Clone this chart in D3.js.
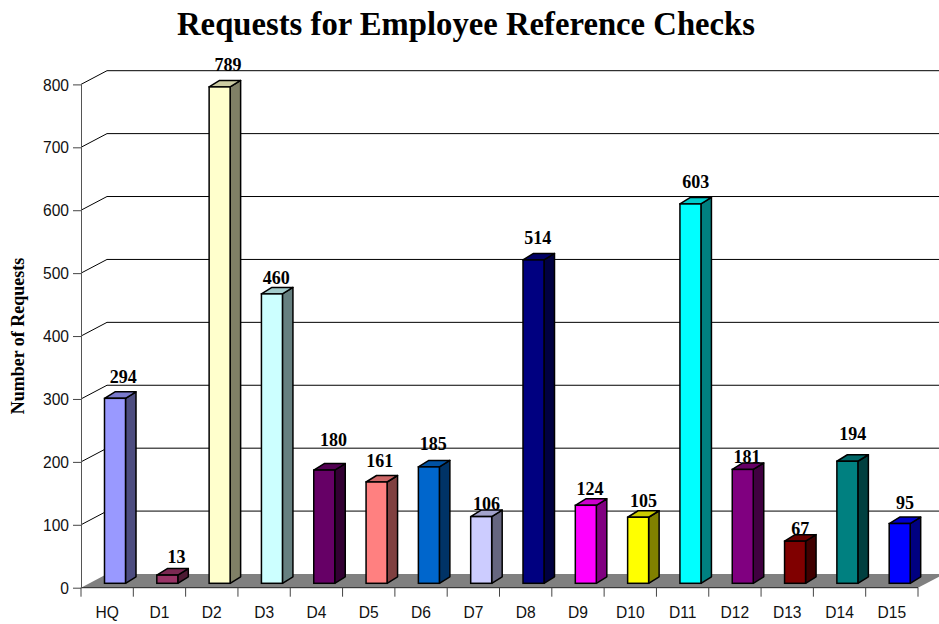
<!DOCTYPE html>
<html>
<head>
<meta charset="utf-8">
<script src="https://cdn.jsdelivr.net/npm/d3@7"></script>
<style>
  html, body { margin: 0; padding: 0; background: #fff; overflow: hidden; }
  svg { display: block; }
  .tickLabel { font-family: "Liberation Sans", Arial, sans-serif; font-size: 15.6px; fill: #111; }
  .valueLabel { font-family: "Liberation Serif", "Times New Roman", serif; font-weight: bold; font-size: 18px; fill: #000; }
</style>
</head>
<body>
<div id="chart"></div>
<script>
const categories = ["HQ", "D1", "D2", "D3", "D4", "D5", "D6", "D7", "D8", "D9", "D10", "D11", "D12", "D13", "D14", "D15"];
const requests = [294, 13, 789, 460, 180, 161, 185, 106, 514, 124, 105, 603, 181, 67, 194, 95];
const barColors = ["#9999FF", "#993366", "#FFFFCC", "#CCFFFF", "#660066", "#FF8080", "#0066CC", "#CCCCFF",
                   "#000080", "#FF00FF", "#FFFF00", "#00FFFF", "#800080", "#800000", "#008080", "#0000FF"];
const yTicks = [0, 100, 200, 300, 400, 500, 600, 700, 800];

// the labels in the original sit at uneven heights / sides of the bars
const labelNudgeY = [0.5, 3, 0, 6, -9, 0, -1, 9, 0, 5, 5, 0, 9, 9, -6, 1];
const labelNudgeX = [1, 2, 1, -3, 2, -4, -3, -2, -3, -3, -2, -2, -3, -2, -2, -2];

const width = 939, height = 624;
const depthX = 26, depthY = 13.7;       // floor / wall depth
const barDepthX = 10.5, barDepthY = 6.5;
const barW = 21, barInset = 23.5, barBaseLift = 4.4;

const svg = d3.select("#chart").append("svg")
  .attr("width", width)
  .attr("height", height);

const x = d3.scaleBand()
  .domain(categories)
  .range([81, 918]);

const y = d3.scaleLinear()
  .domain([0, 800])
  .range([587.7, 84.4]);

// title
svg.append("text")
  .attr("x", 466)
  .attr("y", 35)
  .attr("text-anchor", "middle")
  .attr("font-family", "'Liberation Serif', 'Times New Roman', serif")
  .attr("font-weight", "bold")
  .attr("font-size", 32.7)
  .text("Requests for Employee Reference Checks");

svg.append("text")
  .attr("transform", "translate(24,336) rotate(-90)")
  .attr("text-anchor", "middle")
  .attr("font-family", "'Liberation Serif', 'Times New Roman', serif")
  .attr("font-weight", "bold")
  .attr("font-size", 18)
  .text("Number of Requests");

// back wall gridlines
const grid = svg.append("g");
yTicks.slice(1).forEach(v => {
  grid.append("path")
    .attr("fill", "none")
    .attr("stroke", "#000")
    .attr("stroke-width", 1)
    .attr("d", `M81,${y(v)}L${81 + depthX},${y(v) - depthY}H${918 + depthX}`);
});

// floor
svg.append("path")
  .attr("fill", "#808080")
  .attr("stroke", "none")
  .attr("d", `M81,${y(0)}L${81 + depthX},${y(0) - depthY}H${918 + depthX}L918,${y(0)}Z`);

svg.append("path")
  .attr("fill", "none")
  .attr("stroke", "#222")
  .attr("d", `M81,${y(0)}H918`);

// y axis
const yAxis = svg.append("g")
  .attr("transform", "translate(81,0)")
  .call(d3.axisLeft(y).tickValues(yTicks).tickSize(8).tickSizeOuter(0).tickFormat(d3.format("d")));
yAxis.selectAll("line").attr("stroke", "#444");
yAxis.select(".domain").attr("stroke", "#555");
yAxis.selectAll("text")
  .attr("class", "tickLabel")
  .attr("x", -12)
  .attr("dy", "0.36em")
  .attr("font-family", null)
  .attr("font-size", null);

// x axis: ticks sit between the categories
const xAxis = svg.append("g")
  .attr("transform", `translate(0,${y(0)})`)
  .call(d3.axisBottom(x).tickSize(0).tickPadding(19));
xAxis.select(".domain").remove();
xAxis.selectAll("text")
  .attr("class", "tickLabel")
  .attr("dy", "0.71em")
  .attr("font-family", null)
  .attr("font-size", null);
xAxis.selectAll(".edge")
  .data(categories.concat(["end"]))
  .enter()
  .append("line")
  .attr("class", "edge")
  .attr("x1", (d, i) => i < categories.length ? x(d) : x.range()[1])
  .attr("x2", (d, i) => i < categories.length ? x(d) : x.range()[1])
  .attr("y1", 0)
  .attr("y2", 9)
  .attr("stroke", "#444");

// bars
const bars = svg.selectAll(".bar")
  .data(requests)
  .enter()
  .append("g")
  .attr("class", "bar");

const barLeft = (d, i) => x(categories[i]) + barInset;
const barTop = d => y(d) - barBaseLift;
const barBase = y(0) - barBaseLift;

bars.append("path")   // side
  .attr("fill", (d, i) => {
    const c = d3.rgb(barColors[i]);
    return d3.rgb(c.r / 2, c.g / 2, c.b / 2);
  })
  .attr("stroke", "#000")
  .attr("stroke-width", 1.5)
  .attr("stroke-linejoin", "round")
  .attr("d", (d, i) => {
    const r = barLeft(d, i) + barW;
    return `M${r},${barBase}V${barTop(d)}l${barDepthX},${-barDepthY}V${barBase - barDepthY}Z`;
  });

bars.append("path")   // top
  .attr("fill", (d, i) => {
    const c = d3.rgb(barColors[i]);
    return d3.rgb(c.r * 0.8, c.g * 0.8, c.b * 0.8);
  })
  .attr("stroke", "#000")
  .attr("stroke-width", 1.5)
  .attr("stroke-linejoin", "round")
  .attr("d", (d, i) => {
    const l = barLeft(d, i);
    return `M${l},${barTop(d)}l${barDepthX},${-barDepthY}h${barW}l${-barDepthX},${barDepthY}Z`;
  });

bars.append("rect")   // front
  .attr("x", barLeft)
  .attr("y", barTop)
  .attr("width", barW)
  .attr("height", d => barBase - barTop(d))
  .attr("fill", (d, i) => barColors[i])
  .attr("stroke", "#000")
  .attr("stroke-width", 1.5);

// value labels
svg.selectAll(".valueLabel")
  .data(requests)
  .enter()
  .append("text")
  .attr("class", "valueLabel")
  .attr("text-anchor", "middle")
  .attr("x", (d, i) => barLeft(d, i) + barW / 2 + barDepthX / 2 + 2 + labelNudgeX[i])
  .attr("y", (d, i) => barTop(d) - barDepthY - 9 + labelNudgeY[i])
  .text(d => d);
</script>
</body>
</html>
